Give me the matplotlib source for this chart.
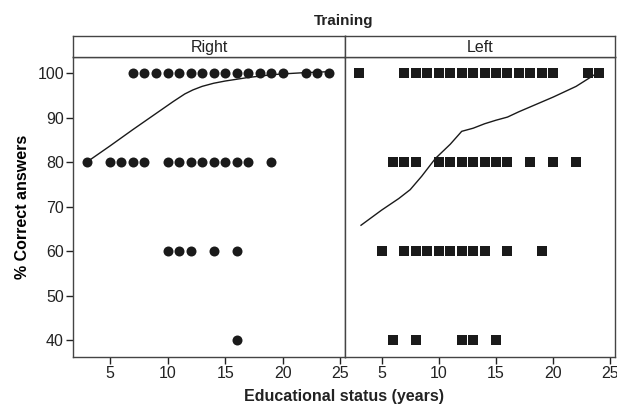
import matplotlib
matplotlib.use("Agg")
import matplotlib.pyplot as plt

plt.rcParams['font.family'] = ['Liberation Sans', 'DejaVu Sans']

# Right panel (circles): education years per score level
right_100 = [7, 8, 9, 10, 11, 12, 13, 14, 15, 16, 17, 18, 19, 20, 22, 23, 24]
right_80 = [3, 5, 6, 7, 8, 10, 11, 12, 13, 14, 15, 16, 17, 19]
right_60 = [10, 11, 12, 14, 16]
right_40 = [16]
right_fit_x = [3, 5, 7, 9, 10.5, 11.5, 12.2, 13, 14, 15, 16, 17, 18, 19, 20, 22, 24]
right_fit_y = [80, 83.6, 87.3, 90.9, 93.6, 95.3, 96.2, 97.0, 97.7, 98.2, 98.6, 99.0, 99.3, 99.6, 99.8, 100.1, 100.3]

# Left panel (squares)
left_100 = [3, 7, 8, 9, 10, 11, 12, 13, 14, 15, 16, 17, 18, 19, 20, 23, 24]
left_80 = [6, 7, 8, 10, 11, 12, 13, 14, 15, 16, 18, 20, 22]
left_60 = [5, 7, 8, 9, 10, 11, 12, 13, 14, 16, 19]
left_40 = [6, 8, 12, 13, 15]
left_fit_x = [3.2, 5, 6.5, 7.5, 8.5, 9.7, 11, 12, 13, 14, 15, 16, 17, 18, 20, 22, 23.6]
left_fit_y = [65.8, 69.2, 71.8, 73.8, 76.8, 80.8, 84.0, 86.9, 87.6, 88.6, 89.4, 90.1, 91.3, 92.4, 94.6, 97.0, 99.6]

yticks = [40, 50, 60, 70, 80, 90, 100]
xticks = [5, 10, 15, 20, 25]
ink = '#1a1a1a'

fig = plt.figure(figsize=(6.17, 4.07), dpi=100)
W, H = 617, 407

def panel(x0, x1, title, groups, marker, ms, fx, fy, show_y):
    ax = fig.add_axes([x0 / W, 1 - 357 / H, (x1 - x0) / W, 300 / H])
    for level, xs in groups:
        ax.plot(xs, [level] * len(xs), linestyle='none', marker=marker,
                markersize=ms, color=ink, markeredgewidth=0)
    ax.plot(fx, fy, color=ink, linewidth=1)
    ax.set_xlim(1.8, 25.4)
    ax.set_ylim(36.2, 103.6)
    ax.set_xticks(xticks)
    ax.set_yticks(yticks)
    ax.tick_params(direction='out', length=5, width=1, labelsize=11.5,
                   colors='#222222', pad=1.5)
    if not show_y:
        ax.tick_params(axis='y', left=False, labelleft=False)
    for s in ax.spines.values():
        s.set_linewidth(1)
        s.set_color('#444444')
    strip = fig.add_axes([x0 / W, 1 - 57 / H, (x1 - x0) / W, 21 / H])
    strip.set_xticks([])
    strip.set_yticks([])
    for s in strip.spines.values():
        s.set_linewidth(1)
        s.set_color('#444444')
    strip.text(0.5, 0.45, title, ha='center', va='center', fontsize=11.5,
               color='#222222', transform=strip.transAxes)
    return ax

ax1 = panel(73, 345, 'Right',
            [(100, right_100), (80, right_80), (60, right_60), (40, right_40)],
            'o', 7.2, right_fit_x, right_fit_y, True)
ax2 = panel(345, 615, 'Left',
            [(100, left_100), (80, left_80), (60, left_60), (40, left_40)],
            's', 6.6, left_fit_x, left_fit_y, False)

ax1.set_ylabel('% Correct answers', fontsize=11.5, fontweight='bold', labelpad=5)
fig.text(344 / W, 1 - 396 / H, 'Educational status (years)', ha='center',
         va='center', fontsize=11.5, fontweight='bold', color='#222222')
fig.text(344 / W, 1 - 21 / H, 'Training', ha='center', va='center',
         fontsize=11, fontweight='bold', color='#222222')

fig.savefig('out.png', dpi=100)
